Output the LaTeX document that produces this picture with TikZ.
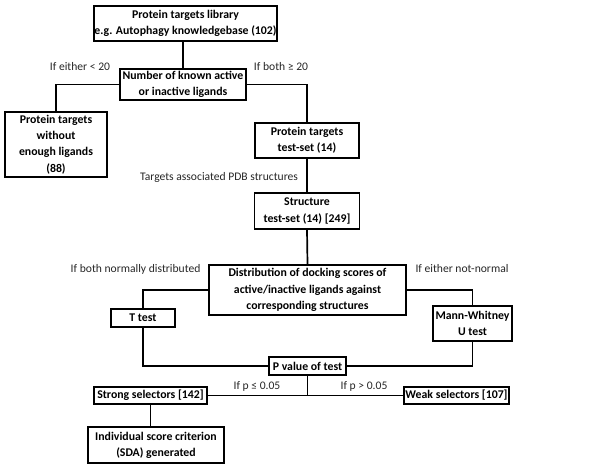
\documentclass[tikz,border=0pt]{standalone}
\usepackage{fontspec}
\setmainfont{Carlito}
\begin{document}
\begin{tikzpicture}[x=1pt,y=-1pt,
  box/.style={draw=black, line width=1.7pt, fill=white, align=center, font=\fontsize{11.8}{16.3}\selectfont\bfseries, inner sep=0.5pt},
  lbl/.style={font=\fontsize{11.6}{13}\selectfont, text=black!85},
  conn/.style={line width=1.7pt}]
\useasboundingbox (0,0) rectangle (604,469);
\node[box, minimum width=183pt, minimum height=35pt] (b1) at (185.5,23.5) {Protein targets library\\e.g. Autophagy knowledgebase (102)};
\node[box, minimum width=126pt, minimum height=31pt] (b2) at (183,84.5) {Number of known active\\or inactive ligands};
\node[box, minimum width=102pt, minimum height=65pt] (b3) at (56,144.5) {Protein targets\\without\\enough ligands\\(88)};
\node[box, minimum width=104pt, minimum height=35pt] (b4) at (307,140.5) {Protein targets\\test-set (14)};
\node[box, minimum width=105pt, minimum height=36pt] (b5) at (307,211) {Structure\\test-set (14) [249]};
\node[box, minimum width=197pt, minimum height=50pt] (b6) at (307.5,290) {Distribution of docking scores of\\active/inactive ligands against\\corresponding structures};
\node[box, minimum width=64pt, minimum height=18pt] (b7) at (143,318) {T test};
\node[box, minimum width=79pt, minimum height=35pt] (b8) at (472.5,323.5) {Mann-Whitney\\U test};
\node[box, minimum width=77pt, minimum height=18pt] (b9) at (307.5,366) {P value of test};
\node[box, minimum width=113pt, minimum height=17pt] (b10) at (150.5,395.5) {Strong selectors [142]};
\node[box, minimum width=105pt, minimum height=17pt] (b11) at (456.5,395.5) {Weak selectors [107]};
\node[box, minimum width=136pt, minimum height=36pt] (b12) at (156,445) {Individual score criterion\\(SDA) generated};
\coordinate (j) at (b9.south |- b10.east);
\draw[conn] (b1.south -| b2.north) -- (b2.north);
\draw[conn] (b2.west) -| (b3.north);
\draw[conn] (b2.east) -| (b4.north);
\draw[conn] (b4.south) -- (b5.north);
\draw[conn] (b5.south) -- (b6.north);
\draw[conn] (b6.west) -| (b7.north);
\draw[conn] (b6.east) -| (b8.north);
\draw[conn] (b7.south) |- (b9.west);
\draw[conn] (b8.south) |- (b9.east);
\draw[conn] (b9.south) -- (j);
\draw[conn] (b10.east) -- (b11.west);
\draw[conn] (b10.south) -- (b10.south |- b12.north);
\node[lbl] (l1) at (80,67) {If either < 20};
\node[lbl] (l2) at (281,67) {If both ≥ 20};
\node[lbl] (l3) at (219,177) {Targets associated PDB structures};
\node[lbl, anchor=east] (l4) at (204,269) {If both normally distributed};
\node[lbl, anchor=west] (l5) at (412,269) {If either not-normal};
\node[lbl] (l6) at (257,386) {If p ≤ 0.05};
\node[lbl] (l7) at (364,386) {If p > 0.05};
\end{tikzpicture}
\end{document}
